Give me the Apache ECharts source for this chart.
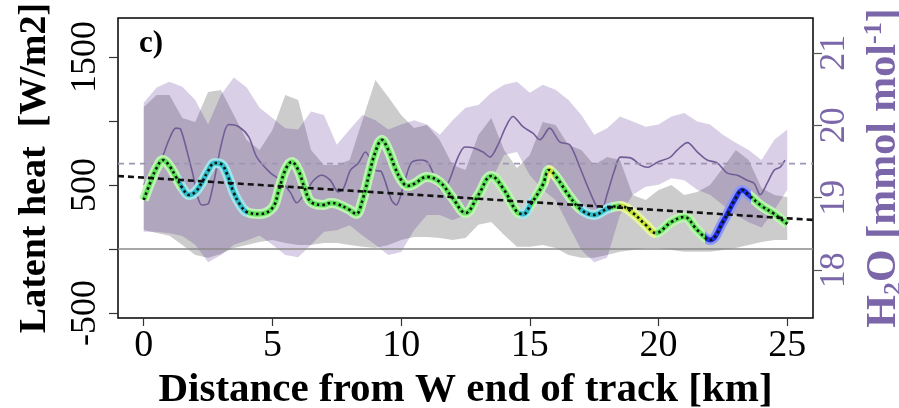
<!DOCTYPE html>
<html>
<head>
<meta charset="utf-8">
<script src="https://cdn.jsdelivr.net/npm/echarts@6/dist/echarts.min.js"></script>
<style>
html,body{margin:0;padding:0;background:#fff;}
#chart{width:899px;height:408px;}
</style>
</head>
<body>
<div id="chart"></div>
<script>
// ---- data ----
// latent heat track (W/m2)
const kmLH = [0,0.25,0.5,0.75,1,1.25,1.5,1.75,2,2.25,2.5,2.75,3,3.25,3.5,3.75,4,4.5,5,5.25,5.5,5.75,6,6.25,6.5,7,7.25,7.5,8,8.25,8.5,8.75,9,9.25,9.5,9.75,10,10.25,10.5,11,11.5,12,12.5,13,13.5,14,14.5,14.75,15,15.5,15.75,16,16.5,17,17.5,18,18.5,19,19.5,19.9,20.5,21,21.5,22,22.5,23,23.25,23.5,24,24.5,25];
const latentHeat = [383,516,633,695,648,563,477,422,445,516,609,672,664,578,438,344,289,273,320,461,617,680,617,477,367,344,359,352,305,273,383,578,758,852,773,641,539,492,508,563,523,398,281,422,570,461,289,273,336,500,617,570,422,305,266,313,336,281,188,125,211,250,148,70,211,398,461,422,336,273,195];
// band sampling positions (km)
const kmBand = [0,0.5,1,1.5,2,2.5,3,3.5,4,4.5,5,5.5,6,6.5,7,7.5,8,8.5,9,9.5,10,10.5,11,11.5,12,12.5,13,13.5,14,14.5,15,15.5,16,16.5,17,17.5,18,18.5,19,19.5,20,20.5,21,21.5,22,22.5,23,23.5,24,24.5,25];
// latent heat spread (W/m2)
const lhUpper = [1109,1203,1203,1023,992,1227,1242,1047,852,773,930,1203,1164,773,656,656,695,1008,1320,1188,1047,945,969,852,656,617,891,1023,773,633,734,992,969,813,773,656,719,695,422,383,461,500,422,445,500,633,773,695,477,422,406];
const lhLower = [148,125,102,31,-47,-70,-39,8,31,55,70,47,31,31,47,47,31,16,8,31,70,94,94,86,70,86,188,211,109,16,16,31,8,-47,-70,-70,-47,-23,-8,8,8,-8,-23,-23,-23,-8,8,31,55,70,70];
// H2O spread (mmol/mol)
const h2oUpper = [20.31,20.52,20.60,20.53,20.35,20.01,20.42,20.66,20.52,20.24,20.10,19.96,19.94,20.19,20.14,19.73,19.94,20.14,20.07,19.94,20.01,20.07,20.01,19.87,20.07,20.24,20.28,20.45,20.56,20.60,20.45,20.56,20.49,20.35,20.14,19.87,19.96,20.12,20.05,19.98,20.01,20.12,20.17,20.05,20.01,19.87,19.76,19.66,19.52,19.80,19.94];
const h2oLower = [18.53,18.53,18.51,18.47,18.35,18.11,18.21,18.35,18.41,18.48,18.35,18.21,18.18,18.35,18.53,18.55,18.62,18.48,18.35,18.21,18.25,18.55,18.76,18.76,18.69,18.76,18.90,19.24,19.59,19.63,19.31,19.11,18.97,18.62,18.28,18.11,18.17,18.76,19.04,19.15,19.18,19.27,19.24,19.11,19.04,18.90,18.76,18.66,18.59,18.83,19.11];
// H2O track (mmol/mol)
const kmH2O = [0,0.67,0.98,1.25,1.44,1.87,2.26,2.53,3.03,3.30,3.69,4.08,4.39,4.93,5.32,5.70,5.94,6.29,6.60,6.91,7.25,7.56,7.76,8.03,8.34,8.61,9.00,9.23,9.62,9.81,10.08,10.39,10.78,11.05,11.32,11.55,11.82,12.21,12.48,12.79,13.18,13.45,13.76,14.07,14.34,14.73,15.12,15.39,15.77,16.16,16.55,16.94,17.25,17.52,17.75,18.02,18.29,18.52,18.91,19.30,19.57,19.96,20.46,20.73,21.12,21.51,21.89,22.28,22.67,23.06,23.44,23.71,23.95,24.22,24.49,24.72,24.91];
const h2o = [19.18,19.52,19.80,19.96,19.94,19.38,18.90,18.93,19.76,20.01,19.98,19.84,19.56,19.34,19.24,19.07,18.93,19.08,19.24,19.31,19.24,19.08,19.13,19.38,19.48,19.63,19.38,19.36,18.97,18.90,19.15,19.48,19.52,19.48,19.27,19.11,19.20,19.56,19.70,19.69,19.63,19.56,19.73,19.98,20.12,19.98,19.89,19.80,19.96,19.77,19.73,19.42,19.15,18.93,18.80,19.07,19.38,19.56,19.55,19.45,19.42,19.49,19.56,19.66,19.76,19.63,19.52,19.48,19.34,19.31,19.24,19.20,19.04,19.20,19.38,19.42,19.52];
// linear trend of latent heat, and mean H2O
const trendKm = [-1, 26];
const trendLH = [570, 227];
const h2oMean = 19.47;
// ticks
const xTicks = [0,5,10,15,20,25];
const lhTicks = [-500,0,500,1000,1500];
const lhLabels = [-500,500,1500];
const h2oTicks = [18,19,20,21];
// colour segments along the track (km)
const segBreaks = [1.37,4.0,14.6,15.1,15.68,15.9,16.9,18.15,18.5,19.9,21.8,23.6];
const segKinds  = ['g','c','g','c','g','y','g','c','g','y','g','b','g'];

const serif = 'Liberation Serif';
const purple = '#7a66a8';

function bandRender(xs, lo, hi, fill){
  return function(params, api){
    if (params.dataIndex !== 0) return null;
    const pts = [];
    for (let i=0;i<xs.length;i++) pts.push(api.coord([xs[i], hi[i]]));
    for (let i=xs.length-1;i>=0;i--) pts.push(api.coord([xs[i], lo[i]]));
    return {type:'polygon', shape:{points:pts}, style:{fill:fill}};
  };
}
function pieces(colors){
  const out = [];
  for (let i=0;i<segKinds.length;i++){
    const p = {color: colors[segKinds[i]]};
    if (i>0) p.gte = segBreaks[i-1];
    if (i<segBreaks.length) p.lt = segBreaks[i];
    out.push(p);
  }
  return out;
}
const plain = v => String(v);
const lhPairs = kmLH.map((x,i)=>[x, latentHeat[i]]);

const chart = echarts.init(document.getElementById('chart'));
chart.setOption({
  animation:false,
  backgroundColor:'#fff',
  grid:{left:118,right:86,top:18,bottom:90,containLabel:false,outerBoundsMode:'none',
        show:true,borderColor:'#000',borderWidth:1.5,backgroundColor:'transparent'},
  xAxis:{type:'value',min:-1,max:26,
    axisLine:{show:false,onZero:false},
    axisTick:{show:true,customValues:xTicks,length:8,lineStyle:{color:'#333',width:1.2}},
    axisLabel:{customValues:xTicks,formatter:plain,fontFamily:serif,fontSize:38,color:'#000',margin:9},
    splitLine:{show:false},
    name:'Distance from W end of track [km]',nameLocation:'middle',nameGap:43,
    nameTextStyle:{fontFamily:serif,fontWeight:'bold',fontSize:41,color:'#000'}},
  yAxis:[
    {type:'value',min:-540,max:1805,position:'left',
     axisLine:{show:false,onZero:false},
     axisTick:{show:true,customValues:lhTicks,length:9,lineStyle:{color:'#333',width:1.2}},
     axisLabel:{customValues:lhLabels,formatter:plain,rotate:90,fontFamily:serif,fontSize:36,color:'#000',margin:14},
     splitLine:{show:false},
     name:'Latent heat  [W/m2]',nameLocation:'middle',nameGap:64,nameRotate:90,
     nameTextStyle:{fontFamily:serif,fontWeight:'bold',fontSize:38,color:'#000'}},
    {type:'value',min:17.34,max:21.48,position:'right',
     axisLine:{show:false,onZero:false},
     axisTick:{show:true,customValues:h2oTicks,length:9,lineStyle:{color:'#555',width:1.2}},
     axisLabel:{customValues:h2oTicks,formatter:plain,rotate:90,fontFamily:serif,fontSize:36,color:purple,margin:4},
     splitLine:{show:false},
     name:'{b|H}{s|2}{b|O [mmol mol}{p|-1}{b|]}',nameLocation:'middle',nameGap:44,nameRotate:90,
     nameTextStyle:{color:purple,rich:{
       b:{fontFamily:serif,fontWeight:'bold',fontSize:42,color:purple,lineHeight:46,verticalAlign:'middle'},
       s:{fontFamily:serif,fontWeight:'bold',fontSize:26,color:purple,lineHeight:46,verticalAlign:'bottom'},
       p:{fontFamily:serif,fontWeight:'bold',fontSize:26,color:purple,lineHeight:46,verticalAlign:'top'}}}}
  ],
  visualMap:[
    {show:false,type:'piecewise',dimension:0,seriesIndex:6,pieces:pieces({g:'#bff3b4',c:'#a6e4ea',y:'#e9f5a0',b:'#8f98f2'})},
    {show:false,type:'piecewise',dimension:0,seriesIndex:7,pieces:pieces({g:'#5fe05a',c:'#30bccb',y:'#c6e436',b:'#1f2ee0'})}
  ],
  series:[
    {type:'custom',name:'LH spread',xAxisIndex:0,yAxisIndex:0,clip:true,z:1,silent:true,
     data:kmBand.map((x,i)=>[x,lhLower[i],lhUpper[i]]),encode:{x:0,y:[1,2]},
     renderItem:bandRender(kmBand,lhLower,lhUpper,'rgba(0,0,0,0.2)')},
    {type:'custom',name:'H2O spread',xAxisIndex:0,yAxisIndex:1,clip:true,z:2,silent:true,
     data:kmBand.map((x,i)=>[x,h2oLower[i],h2oUpper[i]]),encode:{x:0,y:[1,2]},
     renderItem:bandRender(kmBand,h2oLower,h2oUpper,'rgba(66,14,128,0.2)')},
    {type:'line',name:'H2O',yAxisIndex:1,z:3,symbol:'none',smooth:0.3,
     data:kmH2O.map((x,i)=>[x,h2o[i]]),lineStyle:{color:'#6f5e96',width:1.6}},
    {type:'line',name:'H2O mean',yAxisIndex:1,z:4,symbol:'none',
     data:[[-1,h2oMean],[26,h2oMean]],lineStyle:{color:'#a096b4',width:1.6,type:[6,5]}},
    {type:'line',name:'zero',yAxisIndex:0,z:4,symbol:'none',
     data:[[-1,0],[26,0]],lineStyle:{color:'#8a8a8a',width:1.5}},
    {type:'line',name:'trend',yAxisIndex:0,z:9,symbol:'none',
     data:trendKm.map((x,i)=>[x,trendLH[i]]),lineStyle:{color:'#111',width:2.6,type:[6,4]}},
    {type:'line',name:'LH halo',yAxisIndex:0,z:6,symbol:'none',smooth:0.4,
     data:lhPairs,lineStyle:{width:10}},
    {type:'line',name:'LH',yAxisIndex:0,z:7,symbol:'none',smooth:0.4,
     data:lhPairs,lineStyle:{width:5}},
    {type:'line',name:'LH dots',yAxisIndex:0,z:8,symbol:'none',smooth:0.4,
     data:lhPairs,lineStyle:{color:'#0a140a',width:2.6,type:[2.5,3]}}
  ],
  graphic:[{type:'text',left:139,top:28,style:{text:'c)',fontFamily:serif,fontWeight:'bold',fontSize:31,fill:'#000'}}]
});
</script>
</body>
</html>
